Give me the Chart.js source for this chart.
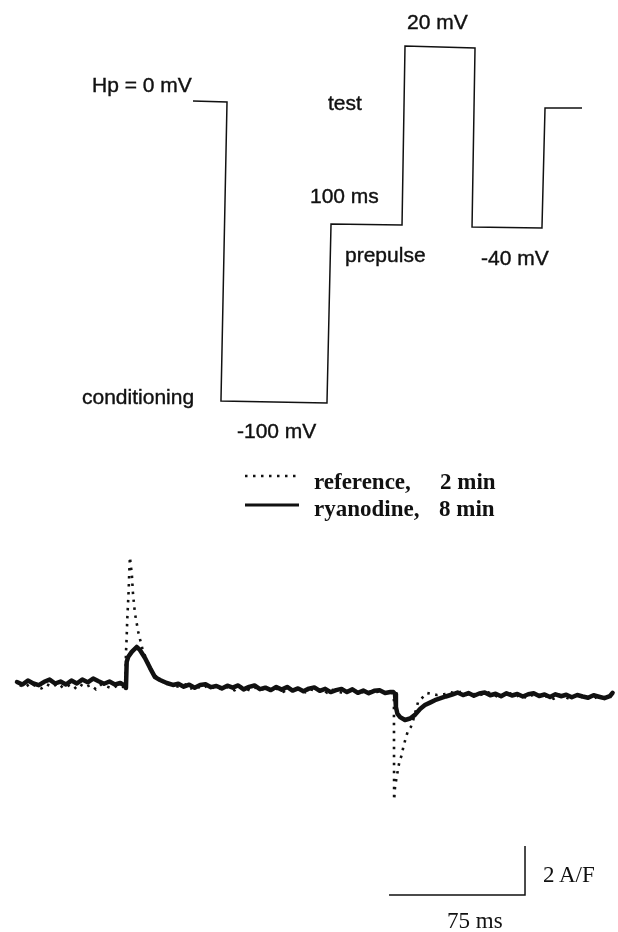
<!DOCTYPE html>
<html><head><meta charset="utf-8">
<script src="https://cdn.jsdelivr.net/npm/chart.js@4.4.1/dist/chart.umd.min.js"></script>
<style>
html,body{margin:0;padding:0;background:#fff;}
body{width:618px;height:932px;position:relative;overflow:hidden;}
canvas{position:absolute;left:0;}
.lab{position:absolute;font-family:"Liberation Sans",Arial,sans-serif;font-size:21px;line-height:21px;color:#111;white-space:nowrap;-webkit-text-stroke:0.4px #111;}
.ser{position:absolute;font-family:"Liberation Serif","Times New Roman",serif;font-size:23px;line-height:23px;color:#111;white-space:nowrap;}
.b{font-weight:bold;}
svg{position:absolute;left:0;top:0;}
</style></head><body>
<canvas id="proto" width="618" height="450" style="top:0px"></canvas>
<canvas id="trace" width="618" height="402" style="top:530px"></canvas>
<svg width="618" height="932" id="leg"></svg>
<script>
// ---- voltage protocol (ms, mV) ----
const protoTime    = [0, 47.9, 39.4, 188.7, 194.4, 294.4, 298.6, 397.2, 393.0, 491.5, 495.8, 547.9];
const protoVoltage = [0, -0.3, -100, -100.7, -41, -41.3, 18.3, 17.7, -42, -42.3, -2.3, -2.3];
const protoLabels  = ["Hp = 0 mV", "test", "20 mV", "100 ms", "prepulse", "-40 mV", "conditioning", "-100 mV"];

// ---- current traces (ms, A/F) ----
const seriesNames = ["reference,", "ryanodine,"];
const seriesTimes = ["2 min", "8 min"];

const ryaTime = [0,3,6,9,12,15,18,21,24,27,30,33,36,39,42,45,48,51,54,57,
 59.6,60.1,60.5,61.3,63.3,66.0,67.8,70.6,73.4,76.1,78.9,82.6,86,
 89,92,95,98,101,104,107,110,113,116,119,122,125,128,131,134,137,140,143,146,149,152,155,158,161,164,167,170,173,176,179,182,185,188,191,194,197,200,203,206,
 207.6,208.5,209.0,209.8,211.3,214.0,216.8,219.5,222.3,225.0,227.8,230.5,233.3,236.5,240.0,
 243,246,249,252,255,258,261,264,267,270,273,276,279,282,285,288,291,294,297,300,303,306,309,312,315,318,321,324,327,328.5];
const ryaCurrent = [0.04,-0.06,0.10,-0.02,-0.09,0.05,0.14,-0.02,0.06,-0.06,0.10,-0.02,0.14,0.03,0.18,0.07,-0.03,0.06,-0.06,0,
 -0.12,-0.2,0.86,1.06,1.27,1.47,1.35,1.02,0.61,0.24,0.12,0,-0.08,
 -0.03,-0.15,-0.07,-0.19,-0.08,-0.05,-0.17,-0.12,-0.22,-0.11,-0.19,-0.10,-0.26,-0.16,-0.10,-0.25,-0.19,-0.29,-0.16,-0.27,-0.16,-0.31,-0.22,-0.34,-0.23,-0.18,-0.32,-0.24,-0.37,-0.29,-0.24,-0.37,-0.26,-0.40,-0.31,-0.42,-0.32,-0.30,-0.41,-0.37,
 -0.37,-0.45,-0.98,-1.25,-1.39,-1.51,-1.45,-1.30,-1.06,-0.90,-0.80,-0.70,-0.63,-0.55,-0.47,
 -0.39,-0.49,-0.41,-0.52,-0.43,-0.39,-0.50,-0.44,-0.54,-0.42,-0.51,-0.45,-0.55,-0.46,-0.42,-0.53,-0.47,-0.57,-0.46,-0.54,-0.48,-0.58,-0.49,-0.55,-0.60,-0.50,-0.56,-0.62,-0.54,-0.40];

const refTime = [1.5,4.5,7.5,10.5,13.5,16.5,19.5,22.5,25.5,28.5,31.5,34.5,37.5,40.5,43.5,46.5,49.5,52.5,55.5,58.5,
 59.8,60.1,60.5,60.8,61.2,61.6,61.9,62.3,62.7,63.3,63.6,63.8,64.2,64.7,65.1,66.0,66.9,67.8,69.5,71.5,74,77,80,83.5,87,
 90,93,96,99,102,105,108,111,114,117,120,123,126,129,132,135,138,141,144,147,150,153,156,159,162,165,168,171,174,177,180,183,186,189,192,195,198,201,204,
 207.0,207.9,208.0,208.5,209.4,210.9,212.2,213.1,214.6,215.8,217.2,218.4,221.2,226.1,231.7,236,
 239,242,245,248,251,254,257,260,263,266,269,272,275,278,281,284,287,290,293,296,299,302,305,308,311,314,317,320,323,326];
const refCurrent = [-0.08,-0.18,0.0,-0.14,-0.22,-0.06,-0.16,-0.02,-0.20,-0.10,-0.24,-0.04,-0.18,-0.08,-0.26,-0.06,-0.14,-0.22,-0.10,-0.16,
 -0.16,1.22,1.88,2.57,3.18,3.8,4.49,5.14,4.82,4.49,4.12,3.8,3.47,3.1,2.82,2.45,2.08,1.8,1.3,0.95,0.55,0.25,0.06,-0.04,-0.12,
 -0.16,-0.06,-0.22,-0.12,-0.24,-0.10,-0.18,-0.28,-0.12,-0.20,-0.30,-0.14,-0.22,-0.32,-0.16,-0.24,-0.34,-0.18,-0.26,-0.36,-0.22,-0.30,-0.20,-0.38,-0.26,-0.32,-0.24,-0.40,-0.28,-0.34,-0.42,-0.30,-0.36,-0.28,-0.44,-0.34,-0.38,-0.30,-0.46,
 -0.40,-0.69,-4.78,-4.25,-3.84,-3.22,-2.94,-2.61,-2.20,-1.92,-1.80,-1.55,-0.78,-0.41,-0.49,-0.45,
 -0.38,-0.42,-0.36,-0.48,-0.40,-0.54,-0.44,-0.38,-0.50,-0.58,-0.46,-0.42,-0.56,-0.48,-0.62,-0.50,-0.44,-0.60,-0.52,-0.64,-0.48,-0.56,-0.66,-0.52,-0.58,-0.50,-0.68,-0.56,-0.60,-0.54];

const scaleBarMs = 75;
const scaleBarCurrent = 2;
const scaleBarLabels = ["75 ms", "2 A/F"];

// ---------------- drawing ----------------
const INK = '#111';
function pts(xs, ys){ return xs.map((x,i)=>({x:x, y:ys[i]})); }
const baseOpts = (xmin,xmax,ymin,ymax) => ({
  responsive:false, animation:false, devicePixelRatio:1, events:[],
  layout:{padding:0},
  plugins:{legend:{display:false}, tooltip:{enabled:false}},
  elements:{point:{radius:0}, line:{tension:0}},
  scales:{
    x:{type:'linear', display:false, min:xmin, max:xmax},
    y:{type:'linear', display:false, min:ymin, max:ymax}
  }
});

new Chart(document.getElementById('proto'), {
  type:'scatter',
  data:{datasets:[{data:pts(protoTime, protoVoltage), showLine:true, borderColor:INK, borderWidth:1.5, pointRadius:0, fill:false}]},
  options: baseOpts(-271.83, 598.59, -116.333, 33.667)
});

// scale bar anchored in data units (corner of the L)
const barCornerTime = 280.2, barLevel = -8.65;
const scaleBarPlugin = {
  id:'scalebar',
  afterDatasetsDraw(chart){
    const {ctx, scales:{x,y}} = chart;
    ctx.save();
    ctx.strokeStyle = INK; ctx.lineWidth = 1.5; ctx.setLineDash([]);
    ctx.beginPath();
    ctx.moveTo(x.getPixelForValue(barCornerTime - scaleBarMs), y.getPixelForValue(barLevel));
    ctx.lineTo(x.getPixelForValue(barCornerTime), y.getPixelForValue(barLevel));
    ctx.lineTo(x.getPixelForValue(barCornerTime), y.getPixelForValue(barLevel + scaleBarCurrent));
    ctx.stroke();
    ctx.restore();
  }
};

new Chart(document.getElementById('trace'), {
  type:'scatter',
  data:{datasets:[
    {label:seriesNames[1], data:pts(ryaTime, ryaCurrent), showLine:true, borderColor:INK, borderWidth:4.5, pointRadius:0, borderJoinStyle:'round', borderCapStyle:'round'},
    {label:seriesNames[0], data:pts(refTime, refCurrent), showLine:true, borderColor:INK, borderWidth:2.6, borderDash:[2.5,5.5], pointRadius:0}
  ]},
  options: baseOpts(-9.377, 331.49, -10.163, 6.245),
  plugins:[scaleBarPlugin]
});

// ---- text ----
function addText(txt, cls, left, top){
  const d = document.createElement('div');
  d.className = cls; d.textContent = txt;
  d.style.left = left + 'px'; d.style.top = top + 'px';
  document.body.appendChild(d);
}
const protoLabelPos = [[92,74],[328,92],[407,11],[310,185],[345,244],[481,247],[82,386],[237,420]];
protoLabels.forEach((t,i)=>addText(t, 'lab', protoLabelPos[i][0], protoLabelPos[i][1]));

addText(seriesNames[0], 'ser b', 314, 470);
addText(seriesTimes[0], 'ser b', 440, 470);
addText(seriesNames[1], 'ser b', 314, 497);
addText(seriesTimes[1], 'ser b', 439, 497);

addText(scaleBarLabels[1], 'ser', 543, 863);
addText(scaleBarLabels[0], 'ser', 447, 909);

// legend samples
const svg = document.getElementById('leg');
svg.innerHTML =
  '<line x1="245" y1="476" x2="297" y2="476" stroke="#111" stroke-width="2.5" stroke-dasharray="2.5 5.5"/>' +
  '<line x1="245" y1="505" x2="299" y2="505" stroke="#111" stroke-width="3"/>';
</script>
</body></html>
